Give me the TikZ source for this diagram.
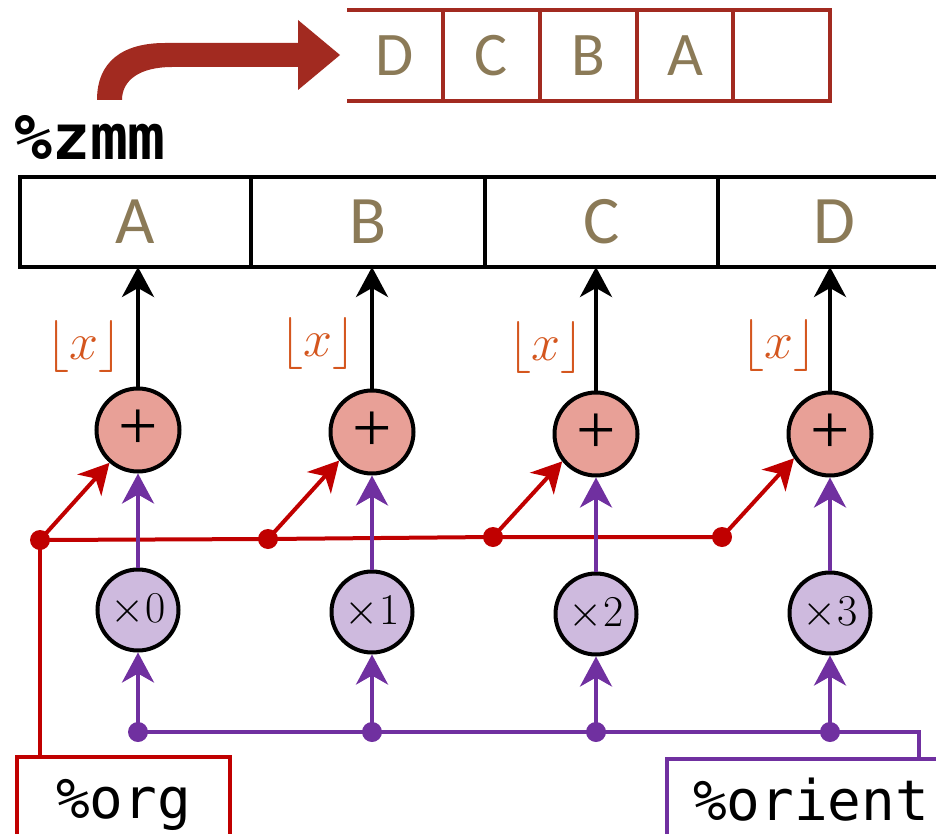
\RequirePackage{fix-cm}
\documentclass[tikz,border=0pt]{standalone}
\usepackage{fontspec}
\setmonofont{DejaVu Sans Mono}
\newfontfamily\cellfont{Carlito}
\newfontfamily\plusfont{Liberation Serif}
\usetikzlibrary{arrows.meta}
\definecolor{letter}{HTML}{8B7A57}
\definecolor{regred}{HTML}{A22A20}
\definecolor{wirered}{HTML}{C00000}
\definecolor{floorc}{HTML}{D4561E}
\definecolor{wirepurple}{HTML}{7030A0}
\definecolor{addfill}{HTML}{E8A097}
\definecolor{mulfill}{HTML}{CEBADE}
\tikzset{
  lanecell/.style={draw=black, line width=4pt, minimum height=90pt, inner sep=0pt,
    outer sep=0pt, text=letter, font=\cellfont\fontsize{68}{68}\selectfont},
  slotcell/.style={line width=4pt, minimum height=91pt, inner sep=0pt, outer sep=0pt,
    text=letter, font=\cellfont\fontsize{62}{62}\selectfont},
  addop/.style={circle, draw=black, line width=4pt, fill=addfill, minimum size=83pt,
    inner sep=0pt, font=\plusfont\fontsize{70}{70}\selectfont},
  mulop/.style={circle, draw=black, line width=4pt, fill=mulfill, minimum size=81pt,
    inner sep=0pt, font=\fontsize{44}{44}\selectfont},
  floorlbl/.style={text=floorc, inner sep=0pt, font=\fontsize{52}{52}\selectfont},
  junc/.style={circle, inner sep=0pt, minimum size=20pt},
  tip/.style={-{Stealth[length=30pt, width=32pt, inset=9pt]}},
  outwire/.style={draw=black, line width=4pt, tip},
  redwire/.style={draw=wirered, line width=4pt},
  purplewire/.style={draw=wirepurple, line width=4pt},
  regbox/.style={line width=4pt, inner ysep=0pt, outer sep=0pt, text height=61pt,
    text depth=60pt, font=\ttfamily\fontsize{56}{56}\selectfont}
}
\begin{document}
\begin{tikzpicture}[x=1pt, y=-1pt]
\useasboundingbox (0,0) rectangle (936,834);
\clip (0,0) rectangle (936,834);

% broad bent arrow above the register
\fill[regred] (97,100) .. controls (97,62) and (122,43) .. (165,43) -- (298,43)
  -- (298,20) -- (340,55) -- (298,90) -- (298,67) -- (172,67)
  .. controls (140,67) and (122,80) .. (122,100) -- cycle;

% reversed lanes
\node[slotcell] (r1) at (395,56) [minimum width=96pt] {D};
\node[slotcell, draw=regred] (r2) at (491.5,56) [minimum width=97pt] {C};
\node[slotcell, draw=regred] (r3) at (588.5,56) [minimum width=97pt] {B};
\node[slotcell, draw=regred] (r4) at (685,56) [minimum width=96pt] {A};
\node[slotcell, draw=regred] (r5) at (781.5,56) [minimum width=97pt] {};
\draw[regred, line width=4pt] (r1.north west) -- (r2.north west);
\draw[regred, line width=4pt] (r1.south west) -- (r2.south west);

% register name
\node[anchor=base west, inner sep=0pt, font=\ttfamily\bfseries\fontsize{63}{63}\selectfont]
  (zname) at (14,160) {\%zmm};

% destination register lanes
\node[lanecell, minimum width=231pt] (z1) at (135.5,222) {A};
\node[lanecell, minimum width=234pt] (z2) at (368,222) {B};
\node[lanecell, minimum width=233pt] (z3) at (601.5,222) {C};
\node[lanecell, minimum width=233pt] (z4) at (834.5,222) {D};

% adders
\node[addop] (p1) at (138,430) {+};
\node[addop] (p2) at (372,432) {+};
\node[addop] (p3) at (596,434) {+};
\node[addop] (p4) at (830,434) {+};

% multipliers
\node[mulop] (m1) at (138,610) {$\times0$};
\node[mulop] (m2) at (372,612) {$\times1$};
\node[mulop] (m3) at (596,614) {$\times2$};
\node[mulop] (m4) at (830,613) {$\times3$};

% floor labels
\node[floorlbl] (f1) at (84,346) {$\lfloor x\rfloor$};
\node[floorlbl] (f2) at (318,343) {$\lfloor x\rfloor$};
\node[floorlbl] (f3) at (546,347) {$\lfloor x\rfloor$};
\node[floorlbl] (f4) at (779,345) {$\lfloor x\rfloor$};

% operand registers
\node[regbox, draw=wirered, inner xsep=0pt, minimum width=213pt, anchor=base]
  (org) at (123.5,818) {\%org};
\node[regbox, draw=wirepurple, inner xsep=26pt, text width=300pt, align=left,
  anchor=base west] (orient) at (667,820) {\%orient};

% junctions
\node[junc, fill=wirered] (a1) at (40,540) {};
\node[junc, fill=wirered] (a2) at (268,539) {};
\node[junc, fill=wirered] (a3) at (493,537) {};
\node[junc, fill=wirered] (a4) at (722,537) {};
\node[junc, fill=wirepurple] (b1) at (138,732) {};
\node[junc, fill=wirepurple] (b2) at (372,732) {};
\node[junc, fill=wirepurple] (b3) at (596,732) {};
\node[junc, fill=wirepurple] (b4) at (830,732) {};
\coordinate (bend) at (919,732);

% results into the register
\foreach \i in {1,...,4}
  \draw[outwire] (p\i.north) -- (p\i.north |- z\i.south);

% origin distribution
\draw[redwire] (a1.center) -- (a2.center) -- (a3.center) -- (a4.center);
\draw[redwire] (a1.center) -- (a1.center |- org.north);
\draw[redwire, tip] (a1.center) -- (p1.229);
\draw[redwire, tip] (a2.center) -- (p2.221);
\draw[redwire, tip] (a3.center) -- (p3.219);
\draw[redwire, tip] (a4.center) -- (p4.214);

% orientation distribution
\draw[purplewire] (b1.center) -- (b4.center) -- (bend) -- (bend |- orient.north);
\foreach \i in {1,...,4} {
  \draw[purplewire, tip] (b\i.center) -- (m\i.south);
  \draw[purplewire, tip] (m\i.north) -- (p\i.south);
}
\end{tikzpicture}
\end{document}
